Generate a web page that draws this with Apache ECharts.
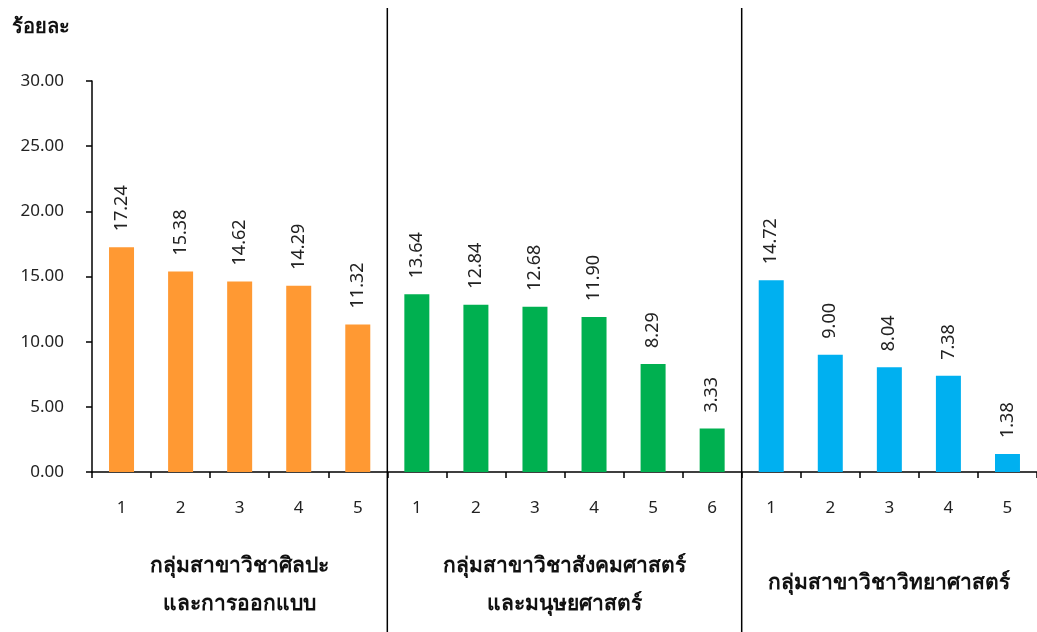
<!DOCTYPE html>
<html><head><meta charset="utf-8">
<script src="https://cdn.jsdelivr.net/npm/echarts@6/dist/echarts.min.js"></script>
<style>html,body{margin:0;padding:0;background:#fff}#c{width:1037px;height:632px}</style>
</head><body><div id="c"></div>
<script>
var categories = ['1','2','3','4','5','1','2','3','4','5','6','1','2','3','4','5'];
var artsValues = [17.24,15.38,14.62,14.29,11.32];
var socialValues = [13.64,12.84,12.68,11.90,8.29,3.33];
var scienceValues = [14.72,9.00,8.04,7.38,1.38];
var groupNames = [['กลุ่มสาขาวิชาศิลปะ','และการออกแบบ'],['กลุ่มสาขาวิชาสังคมศาสตร์','และมนุษยศาสตร์'],['กลุ่มสาขาวิชาวิทยาศาสตร์']];
var yTicks = [0,5,10,15,20,25,30];
var yTitle = 'ร้อยละ';

var FONT = '"Noto Sans","DejaVu Sans",sans-serif';
var groups = [artsValues, socialValues, scienceValues];
var colors = ['#FF9933','#00B050','#00B0F0'];
var n = categories.length;
var series = [];
var offset = 0;
groups.forEach(function(g, gi){
  var d = [];
  for (var i=0;i<n;i++) d.push(null);
  g.forEach(function(v,j){ d[offset+j]=v; });
  offset += g.length;
  series.push({
    type:'bar', data:d, barWidth:25, barGap:'-100%',
    itemStyle:{color:colors[gi]},
    label:{show:true, position:'top', rotate:90, distance:16, align:'left', verticalAlign:'middle',
      color:'#222', fontSize:18, fontFamily:FONT,
      formatter:function(p){return p.value==null?'':p.value.toFixed(2);}}
  });
});

var chart = echarts.init(document.getElementById('c'));
chart.setOption({
  animation:false,
  grid:{left:92,right:-5,top:81,bottom:160,containLabel:false},
  xAxis:{type:'category', data:categories,
    axisLine:{lineStyle:{color:'#000',width:1.5}},
    axisTick:{show:true,length:6,lineStyle:{color:'#000',width:1.5}},
    axisLabel:{color:'#222',fontSize:17,fontFamily:FONT,margin:28}},
  yAxis:{type:'value', min:yTicks[0], max:yTicks[yTicks.length-1], interval:5,
    axisLine:{show:true,lineStyle:{color:'#000',width:1.5}},
    axisTick:{show:true,length:6,lineStyle:{color:'#000',width:1.5}},
    splitLine:{show:false},
    axisLabel:{color:'#222',fontSize:17,fontFamily:FONT,margin:28,formatter:function(v){return v.toFixed(2);}}},
  series:series
});

var graphics = [{type:'text', left:12, top:17, style:{text:yTitle, fontSize:20, fontWeight:'bold', fontFamily:FONT, fill:'#111'}}];
var start = 0;
var baseY = chart.convertToPixel({yAxisIndex:0}, 0);
groups.forEach(function(g, gi){
  var first = chart.convertToPixel({xAxisIndex:0}, start);
  var last = chart.convertToPixel({xAxisIndex:0}, start+g.length-1);
  var cx = (first+last)/2;
  var lines = groupNames[gi];
  var ys = lines.length===2 ? [baseY+94, baseY+132] : [baseY+111];
  lines.forEach(function(t, li){
    graphics.push({type:'text', x:cx, y:ys[li], style:{text:t, align:'center', verticalAlign:'middle', fontSize:21, fontWeight:'bold', fontFamily:FONT, fill:'#111'}});
  });
  if (gi < groups.length-1) {
    var a = chart.convertToPixel({xAxisIndex:0}, start+g.length-1);
    var b = chart.convertToPixel({xAxisIndex:0}, start+g.length);
    var sx = (a+b)/2;
    graphics.push({type:'line', shape:{x1:sx,y1:8,x2:sx,y2:632}, style:{stroke:'#000',lineWidth:1.5}});
  }
  start += g.length;
});
chart.setOption({graphic:graphics});
</script></body></html>
